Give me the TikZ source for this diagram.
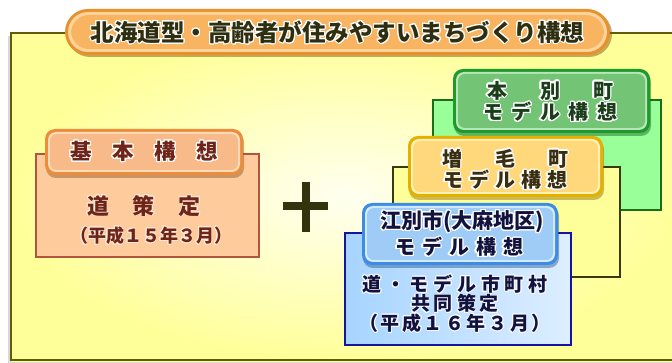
\documentclass[tikz,border=0pt]{standalone}
\usepackage{fontspec}
\usepackage[copies]{contour}
\newfontfamily\jp{Noto Sans CJK JP}
\contourlength{1.1pt}
\contournumber{24}
\definecolor{panelfill}{HTML}{FFFF99}
\definecolor{panelcenter}{HTML}{FFFFF0}
\definecolor{panelline}{HTML}{5E5E08}
\definecolor{titletext}{HTML}{2E2E10}
\definecolor{pillout}{HTML}{E8902A}
\definecolor{pillring}{HTML}{FFD39A}
\definecolor{pillfill}{HTML}{F9B462}
\definecolor{basetext}{HTML}{6E2418}
\definecolor{basebody}{HTML}{FDCB9C}
\definecolor{bsline}{HTML}{B3553E}
\definecolor{basetabout}{HTML}{EC8C3C}
\definecolor{basetabring}{HTML}{FFDDB8}
\definecolor{basetabfill}{HTML}{F9BA8A}
\definecolor{grbody}{HTML}{99FF99}
\definecolor{grline}{HTML}{1A6E1A}
\definecolor{grtabout}{HTML}{1E9A2C}
\definecolor{grtabring}{HTML}{B8E6B8}
\definecolor{grtabfill}{HTML}{74C476}
\definecolor{grtext}{HTML}{1B3D1B}
\definecolor{yebody}{HTML}{FFFF99}
\definecolor{yeline}{HTML}{3A3A12}
\definecolor{yetabout}{HTML}{E6B000}
\definecolor{yetabring}{HTML}{FFF2B8}
\definecolor{yetabfill}{HTML}{FFD87C}
\definecolor{yetext}{HTML}{3A2E10}
\definecolor{blbodyA}{HTML}{A6D4FF}
\definecolor{blbodyB}{HTML}{DDEEFF}
\definecolor{blline}{HTML}{1414A0}
\definecolor{bltabout}{HTML}{3C8CE6}
\definecolor{bltabring}{HTML}{D4EAFF}
\definecolor{bltabfill}{HTML}{9ECCF6}
\definecolor{bltext}{HTML}{12123E}
\definecolor{plusc}{HTML}{33330E}
\protected\def\spc#1#2{\def\spgap{#1}\spcfirst#2\relax}
\def\spcfirst#1{#1\spcrest}
\def\spcrest#1{\ifx#1\relax\else\hspace{\spgap}#1\expandafter\spcrest\fi}
\newcommand\mytab[7]{%
  \fill[#5!60!black, opacity=.45, rounded corners=10] (#1+1,#2+3) rectangle (#3+1,#4+3);
  \fill[#5, rounded corners=10] (#1,#2) rectangle (#3,#4);
  \fill[#6, rounded corners=8] (#1+3,#2+3) rectangle (#3-3,#4-3);
  \fill[#7, rounded corners=7] (#1+5,#2+5) rectangle (#3-5,#4-5);
}
\tikzset{
  lbl/.style={inner sep=0pt, font=\jp\bfseries},
}
\begin{document}
\begin{tikzpicture}[x=1pt,y=-1pt]
\useasboundingbox (0,0) rectangle (672,363);
\fill[white] (0,0) rectangle (672,363);
% panel
\fill[black!15] (8,36) rectangle (675,363);
\shade[inner color=panelcenter, outer color=panelfill] (11,33) rectangle (680,361);
\draw[panelline, line width=2.5] (680,33) -- (11,33) -- (11,360) -- (680,360);
% title pill
\fill[pillout!60!black, opacity=.5, rounded corners=23] (67,11) rectangle (612,57);
\fill[pillout, rounded corners=23] (65,9) rectangle (610,55);
\fill[pillring, rounded corners=20] (68,12) rectangle (607,52);
\fill[pillfill, rounded corners=18] (71,15) rectangle (604,49);
\node[lbl, text=titletext] (title) at (337.5,32.5)
  {\fontsize{23.5}{24}\selectfont\contour{white}{北海道型・高齢者が住みやすいまちづくり構想}};
% basic plan
\fill[basebody] (36,154) rectangle (259,257);
\draw[bsline, line width=2] (36,154) rectangle (259,257);
\mytab{45}{129}{243}{175}{basetabout}{basetabring}{basetabfill}
\node[lbl, text=basetext] (kihon) at (144,152)
  {\fontsize{21.5}{22}\selectfont\contour{white}{\spc{20.5pt}{基本構想}}};
\node[lbl, text=basetext] (dou) at (144,206)
  {\fontsize{22}{22}\selectfont\contourlength{0.7pt}\contour{white!60!basebody}{\spc{24pt}{道策定}}};
\node[lbl, text=basetext] (date1) at (151,236)
  {\fontsize{18}{18}\selectfont\contourlength{0.7pt}\contour{white!60!basebody}{（平成１５年３月）}};
% plus
\draw[plusc, line width=8.5] (283,206) -- (328,206);
\draw[plusc, line width=8.5] (306,182) -- (306,232);
% green
\fill[grbody] (433,100) rectangle (661,210);
\draw[grline, line width=2] (433,100) rectangle (661,210);
\mytab{453}{69}{650}{133}{grtabout}{grtabring}{grtabfill}
\node[lbl, text=grtext] (hon) at (550,91)
  {\fontsize{20}{20}\selectfont\contour{white}{\spc{33pt}{本別町}}};
\node[lbl, text=grtext] (honm) at (550,112.5)
  {\fontsize{20}{20}\selectfont\contour{white}{\spc{8.5pt}{モデル構想}}};
% yellow
\fill[yebody] (393,167) rectangle (620,277);
\draw[yeline, line width=2] (393,167) rectangle (620,277);
\mytab{408}{136}{603}{197}{yetabout}{yetabring}{yetabfill}
\node[lbl, text=yetext] (mashi) at (505,159)
  {\fontsize{20}{20}\selectfont\contour{white}{\spc{33pt}{増毛町}}};
\node[lbl, text=yetext] (mashim) at (505,180.5)
  {\fontsize{20}{20}\selectfont\contour{white}{\spc{6pt}{モデル構想}}};
% blue
\shade[left color=blbodyA, right color=blbodyB] (345,233) rectangle (571,345);
\draw[blline, line width=2] (345,233) rectangle (571,345);
\mytab{362}{203}{558}{265}{bltabout}{bltabring}{bltabfill}
\node[lbl, text=bltext] (ebetsu) at (462,222)
  {\fontsize{21}{21}\selectfont\contour{white}{江別市(大麻地区)}};
\node[lbl, text=bltext] (ebetsum) at (459,247.5)
  {\fontsize{20}{20}\selectfont\contour{white}{\spc{7pt}{モデル構想}}};
\node[lbl, text=bltext] (l1) at (455,284.5)
  {\fontsize{19}{19}\selectfont\contourlength{0.8pt}\contour{white!70!blbodyB}{\spc{4.7pt}{道・モデル市町村}}};
\node[lbl, text=bltext] (l2) at (455,304)
  {\fontsize{19}{19}\selectfont\contourlength{0.8pt}\contour{white!70!blbodyB}{\spc{4pt}{共同策定}}};
\node[lbl, text=bltext] (l3) at (455,323.5)
  {\fontsize{19}{19}\selectfont\contourlength{0.8pt}\contour{white!70!blbodyB}{\spc{2.5pt}{（平成１６年３月）}}};
\end{tikzpicture}
\end{document}
